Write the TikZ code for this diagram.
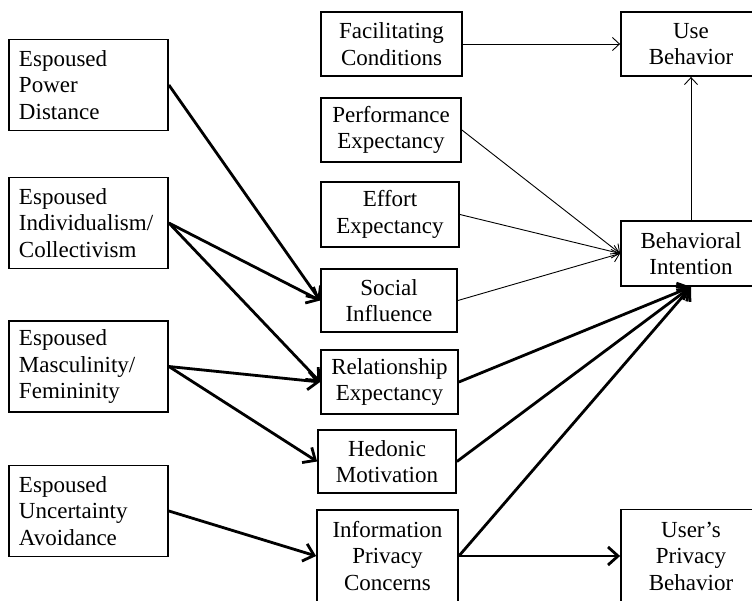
\documentclass[tikz,border=0pt]{standalone}
\usepackage{fontspec}
\setmainfont{Liberation Serif}
\usetikzlibrary{arrows.meta}
\begin{document}
\begin{tikzpicture}[x=1pt,y=-1pt,
  box/.style={draw,line width=1.8pt,inner sep=0pt,align=center,
    font=\fontsize{23}{26.5}\selectfont},
  leftbox/.style={box,minimum width=159pt,minimum height=91pt,align=left,
    text width=139pt},
  thin/.style={line width=0.9pt,-{Straight Barb[length=7pt,width=13pt,line width=0.9pt]}},
  bold/.style={line width=2.8pt,-{Straight Barb[length=10pt,width=18pt,line width=2.8pt]}}]
\clip (0,0) rectangle (752,600);
\fill[white] (0,0) rectangle (752,600);
% cultural values (left column)
\node[leftbox] (pd) at (88.5,85) {Espoused\\Power\\Distance};
\node[leftbox] (ic) at (88.5,223) {Espoused\\Individualism/\\Collectivism};
\node[leftbox] (mf) at (88.5,366.5) {Espoused\\Masculinity/\\Femininity};
\node[leftbox] (ua) at (88.5,511) {Espoused\\Uncertainty\\Avoidance};
% constructs (middle column)
\node[box,minimum width=141pt,minimum height=64pt] (fc) at (391.5,44) {Facilitating\\Conditions};
\node[box,minimum width=140pt,minimum height=64pt] (pe) at (391,130) {Performance\\Expectancy};
\node[box,minimum width=138pt,minimum height=65pt] (ee) at (390,214.5) {Effort\\Expectancy};
\node[box,minimum width=136pt,minimum height=63pt] (si) at (389,300.5) {Social\\Influence};
\node[box,minimum width=137pt,minimum height=64pt] (re) at (389.5,382) {Relationship\\Expectancy};
\node[box,minimum width=138pt,minimum height=63pt] (hm) at (387,461.5) {Hedonic\\Motivation};
\node[box,minimum width=141pt,minimum height=92pt] (ipc) at (387.5,556) {Information\\Privacy\\Concerns};
% outcomes (right column)
\node[box,minimum width=140pt,minimum height=64pt] (ub) at (691,44) {Use\\Behavior};
\node[box,minimum width=140pt,minimum height=65pt] (bi) at (691,253.5) {Behavioral\\Intention};
\node[box,minimum width=140pt,minimum height=93pt] (upb) at (691,556) {User’s\\Privacy\\Behavior};
% UTAUT paths
\draw[thin] (fc) -- (ub);
\draw[thin] (pe.east) -- (bi.west);
\draw[thin] (ee.east) -- (bi.west);
\draw[thin] (si.east) -- (bi.west);
\draw[thin] (bi) -- (ub);
% moderating culture paths
\draw[bold] (pd.east) -- (si.west);
\draw[bold] (ic.east) -- (si.west);
\draw[bold] (ic.east) -- (re.west);
\draw[bold] (mf.east) -- (re.west);
\draw[bold] (mf.east) -- (hm.west);
\draw[bold] (ua.east) -- (ipc.west);
% extended constructs
\draw[bold] (re.east) -- (bi.south);
\draw[bold] (hm.east) -- (bi.south);
\draw[bold] (ipc.east) -- (bi.south);
\draw[bold] (ipc.east) -- (upb.west);
\end{tikzpicture}
\end{document}
